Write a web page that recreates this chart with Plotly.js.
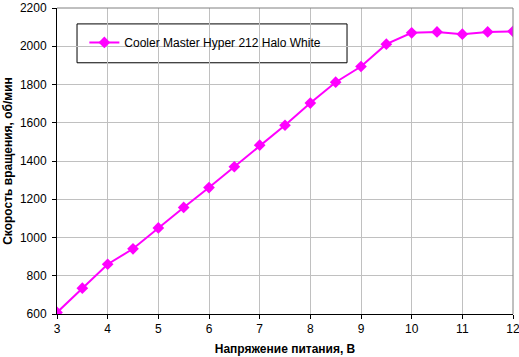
<!DOCTYPE html>
<html><head><meta charset="utf-8">
<script src="https://cdn.plot.ly/plotly-3.0.1.min.js"></script>
<style>body{margin:0;padding:0;background:#fff}#c{width:519px;height:357px}</style>
</head><body><div id="c"></div>
<script>
const voltage = [3, 3.5, 4, 4.5, 5, 5.5, 6, 6.5, 7, 7.5, 8, 8.5, 9, 9.5, 10, 10.5, 11, 11.5, 12];
const rpm = [608, 735, 860, 941, 1050, 1157, 1261, 1370, 1483, 1587, 1703, 1812, 1894, 2011, 2070, 2075, 2063, 2075, 2078];
const seriesName = 'Cooler Master Hyper 212 Halo White';
const xTitle = 'Напряжение питания, В';
const yTitle = 'Скорость вращения, об/мин';
const xTicks = [3,4,5,6,7,8,9,10,11,12];
const yTicks = [600,800,1000,1200,1400,1600,1800,2000,2200];

const F = '"Liberation Sans", Arial, sans-serif';
const trace = {
  x: voltage, y: rpm, name: seriesName, type: 'scatter', mode: 'lines+markers',
  line: {color: '#FF00FF', width: 2},
  marker: {symbol: 'diamond', size: 9, color: '#FF00FF'},
  showlegend: true
};
const layout = {
  width: 519, height: 357,
  margin: {l: 57, r: 6, t: 8, b: 43},
  paper_bgcolor: '#fff', plot_bgcolor: '#fff',
  font: {family: F, size: 12, color: '#000'},
  showlegend: true,
  legend: {x: 0.06, y: 0.935, xanchor: 'left', yanchor: 'top', bgcolor: 'rgba(0,0,0,0)', borderwidth: 0,
           font: {family: F, size: 12, color: '#000'}},
  xaxis: {range: [3, 12], tickvals: xTicks, ticks: 'outside', ticklen: 4, tickcolor: '#000',
          showline: true, linecolor: '#000', linewidth: 1, mirror: false, ticklabeloverflow: 'allow',
          showgrid: true, gridcolor: '#c0c0c0', gridwidth: 1, zeroline: false,
          tickfont: {family: F, size: 12},
          title: {text: xTitle, font: {family: F, size: 12, weight: 'bold'}, standoff: 9}},
  yaxis: {range: [600, 2200], tickvals: yTicks, ticks: 'outside', ticklen: 4, tickcolor: '#000',
          showline: true, linecolor: '#000', linewidth: 1, ticklabeloverflow: 'allow',
          showgrid: true, gridcolor: '#c0c0c0', gridwidth: 1, zeroline: false,
          tickfont: {family: F, size: 12}, ticklabelstandoff: 3,
          title: {text: yTitle, font: {family: F, size: 12, weight: 'bold'}, standoff: 4}},
  shapes: [
    {type: 'line', xref: 'paper', yref: 'paper', x0: 0, x1: 1, y0: 1, y1: 1, line: {color: '#808080', width: 1}},
    {type: 'line', xref: 'paper', yref: 'paper', x0: 1, x1: 1, y0: 0, y1: 1, line: {color: '#808080', width: 1}},
    {type: 'rect', xref: 'paper', yref: 'paper', x0: 0.0439, x1: 0.636, y0: 0.821, y1: 0.948,
     line: {color: '#000', width: 1}, fillcolor: '#fff', layer: 'below'}
  ]
};
Plotly.newPlot('c', [trace], layout, {staticPlot: true, displayModeBar: false});
</script></body></html>
